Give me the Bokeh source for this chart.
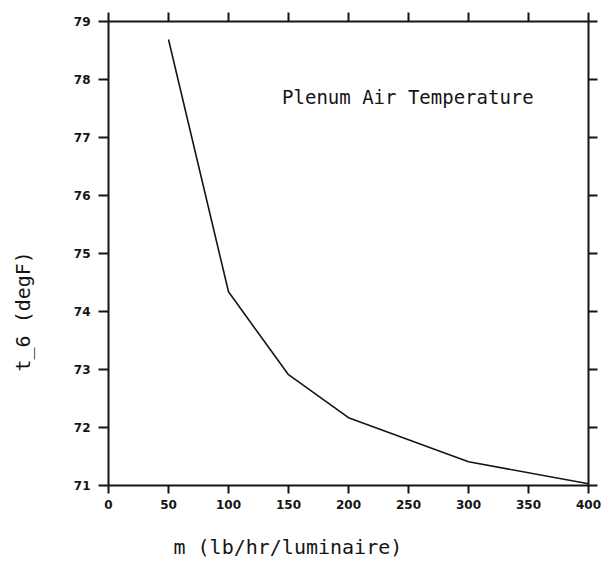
from bokeh.plotting import figure
from bokeh.models import LinearAxis, FixedTicker, Label, Range1d, Title
from bokeh.embed import file_html
from bokeh.resources import INLINE

# Data
flow_rate = [50, 100, 150, 200, 300, 400]            # m (lb/hr/luminaire)
plenum_temp = [78.69, 74.34, 72.91, 72.17, 71.41, 71.03]  # t_6 (degF)

x_ticks = [0, 50, 100, 150, 200, 250, 300, 350, 400]
y_ticks = [71, 72, 73, 74, 75, 76, 77, 78, 79]

title_text = "Plenum Air Temperature"
x_label_text = "m (lb/hr/luminaire)"
y_label_text = "t_6 (degF)"

INK = "#151515"

p = figure(width=611, height=563, output_backend="svg", toolbar_location=None,
           x_range=Range1d(0, 400), y_range=Range1d(71, 79),
           x_axis_location=None, y_axis_location=None,
           min_border_left=108, min_border_right=23,
           min_border_top=21, min_border_bottom=78)
p.xgrid.visible = False
p.ygrid.visible = False
p.outline_line_color = None
p.background_fill_color = "white"
p.border_fill_color = "white"

def style_axis(ax, ticks, show_labels, tick_out):
    ax.ticker = FixedTicker(ticks=ticks)
    ax.axis_line_color = INK
    ax.axis_line_width = 2
    ax.major_tick_line_color = INK
    ax.major_tick_line_width = 2
    ax.major_tick_in = 0
    ax.major_tick_out = tick_out
    ax.minor_tick_line_color = None
    if show_labels:
        ax.major_label_text_font = "DejaVu Sans"
        ax.major_label_text_font_style = "bold"
        ax.major_label_text_font_size = "12px"
        ax.major_label_text_color = INK
    else:
        ax.major_label_text_color = None

def spacer(size, tick):
    # a blank (white-on-white) axis that only reserves room in a side panel
    ax = LinearAxis(ticker=FixedTicker(ticks=[tick]))
    ax.axis_line_color = "white"
    ax.axis_line_width = 1
    ax.major_tick_line_color = "white"
    ax.major_tick_line_width = 1
    ax.minor_tick_line_color = None
    ax.major_tick_in = 0
    ax.major_tick_out = size
    ax.minor_tick_in = 0
    ax.minor_tick_out = 0
    ax.major_label_text_color = None
    return ax

bottom = LinearAxis()
style_axis(bottom, x_ticks, True, 8)
bottom.major_label_standoff = 6
p.add_layout(bottom, "below")

top = LinearAxis()
style_axis(top, x_ticks, False, 9)
p.add_layout(top, "above")

left = LinearAxis()
style_axis(left, y_ticks, True, 10)
left.major_label_standoff = 8
p.add_layout(left, "left")

right = LinearAxis()
style_axis(right, y_ticks, False, 9)
p.add_layout(right, "right")

p.line(flow_rate, plenum_temp, line_color=INK, line_width=1.6)

p.add_layout(Label(x=249.5, y=77.70, text=title_text, text_align="center",
                   text_baseline="alphabetic", text_font="DejaVu Sans Mono",
                   text_font_size="19px", text_color=INK))

p.add_layout(spacer(18, 200), "below")
x_title = Title(text=x_label_text, align="left", offset=65,
                vertical_align="bottom", standoff=6,
                text_font="DejaVu Sans Mono", text_font_size="20px",
                text_font_style="normal", text_color=INK)
p.add_layout(x_title, "below")

p.add_layout(spacer(34, 75), "left")
y_title = Title(text=y_label_text, align="left", offset=114,
                vertical_align="top", standoff=0,
                text_font="DejaVu Sans Mono", text_font_size="20px",
                text_font_style="normal", text_color=INK)
p.add_layout(y_title, "left")

open("out.html", "w").write(file_html(p, INLINE))
